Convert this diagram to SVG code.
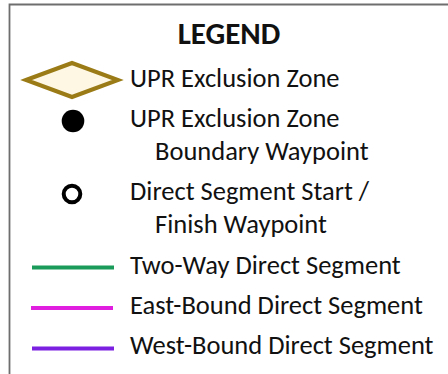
<svg xmlns="http://www.w3.org/2000/svg" width="448" height="374" viewBox="0 0 448 374">
<style>
text{font-family:Carlito,Lato,"Liberation Sans",sans-serif;font-size:26.5px;fill:#111}
.t{font-weight:bold;font-size:31px}
.seg{stroke-width:4;stroke-linecap:butt;fill:none}
</style>
<rect x="0" y="0" width="448" height="374" fill="#fff"/>
<path d="M9.5,374 V4.5 H448" fill="none" stroke="#6e6e6e" stroke-width="1.8"/>
<text class="t" x="229" y="44" text-anchor="middle">LEGEND</text>
<g id="zone">
<polygon points="26,80 72,63 118,80 72,97" fill="#fdf7e4" stroke="#9a7b16" stroke-width="4" stroke-linejoin="miter"/>
<text x="130" y="87">UPR Exclusion Zone</text>
</g>
<g id="boundary-waypoint">
<circle cx="73" cy="121" r="11.3" fill="#000"/>
<text x="130" y="127">UPR Exclusion Zone</text>
<text x="155" y="160">Boundary Waypoint</text>
</g>
<g id="start-finish-waypoint">
<circle cx="72" cy="194" r="8.3" fill="none" stroke="#000" stroke-width="4"/>
<text x="130" y="200">Direct Segment Start /</text>
<text x="155" y="233">Finish Waypoint</text>
</g>
<g id="connectors">
<line class="seg" x1="32" y1="267.5" x2="114" y2="267.5" stroke="#1b9b5a"/>
<line class="seg" x1="31" y1="308" x2="113" y2="308" stroke="#e01ee0"/>
<line class="seg" x1="32" y1="348.5" x2="114" y2="348.5" stroke="#7b1fe0"/>
</g>
<g id="labels">
<text x="130" y="274">Two-Way Direct Segment</text>
<text x="130" y="314">East-Bound Direct Segment</text>
<text x="130" y="354">West-Bound Direct Segment</text>
</g>
</svg>
